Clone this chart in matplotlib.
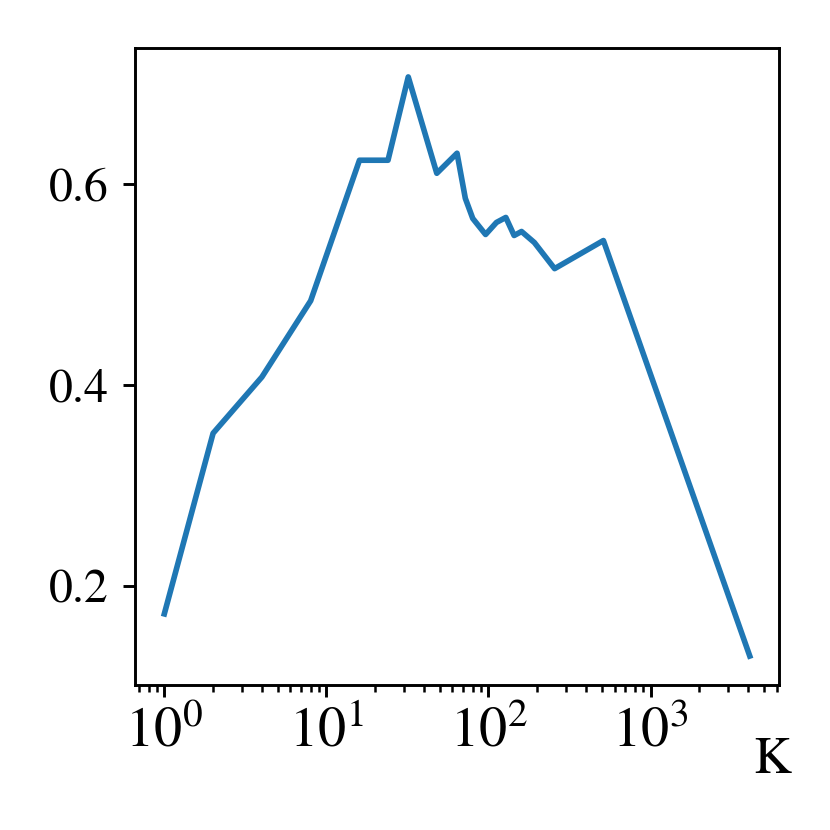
import matplotlib
matplotlib.use("Agg")
import matplotlib.pyplot as plt
from matplotlib.ticker import LogLocator, NullFormatter

# valores
k_vals = [1, 2, 4, 8, 16, 24, 32, 48, 64, 72, 80, 96, 112, 128, 144, 160, 192, 256, 512, 4096]
scores = [0.172, 0.352, 0.408, 0.484, 0.624, 0.624, 0.707, 0.611, 0.631, 0.586, 0.566,
          0.550, 0.562, 0.567, 0.549, 0.553, 0.542, 0.516, 0.544, 0.130]
y_ticks = [0.2, 0.4, 0.6]

plt.rcParams['font.family'] = ['STIXGeneral', 'DejaVu Serif']
plt.rcParams['mathtext.fontset'] = 'stix'
plt.rcParams['font.size'] = 11.5

fig = plt.figure(figsize=(830/300, 830/300), dpi=300)
ax = fig.add_axes([0.1627, 0.1747, 0.7759, 0.7675])
ax.plot(k_vals, scores, color='#1f77b4', linewidth=1.35)
ax.set_xscale('log')
ax.xaxis.set_major_locator(LogLocator(base=10, numticks=20))
ax.xaxis.set_minor_locator(LogLocator(base=10, subs=range(2, 10), numticks=20))
ax.xaxis.set_minor_formatter(NullFormatter())
ax.set_yticks(y_ticks)
ax.set_yticklabels([str(v) for v in y_ticks])
ax.tick_params(which='major', length=2.8, width=0.7)
ax.tick_params(which='minor', length=1.6, width=0.6)
ax.tick_params(axis='x', which='major', labelsize=13.5, pad=2.5)
for s in ax.spines.values():
    s.set_linewidth(0.7)
ax.set_xlabel('K', fontsize=12.5)
ax.xaxis.set_label_coords(0.99, -0.083)

fig.savefig('out.png', dpi=300)
